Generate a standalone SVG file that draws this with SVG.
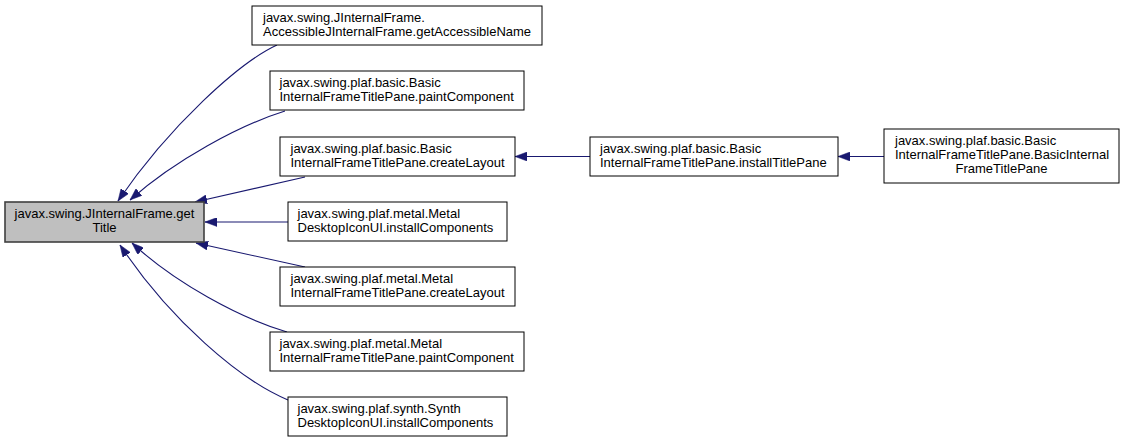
<svg xmlns="http://www.w3.org/2000/svg" width="1125" height="444" viewBox="0 0 1125 444">
<style>
  text { font-family: "Liberation Sans", Arial, sans-serif; font-size: 13px; fill: #000; }
  .node rect { fill: #fff; stroke: #000; stroke-width: 1; }
  .main rect { fill: #bfbfbf; stroke: #404040; stroke-width: 1.6; }
  .c { text-anchor: middle; }
  .edge { fill: none; stroke: #191970; stroke-width: 1.1; marker-end: url(#arr); }
</style>
<defs>
  <marker id="arr" markerUnits="userSpaceOnUse" viewBox="0 0 12 9" refX="12" refY="4.5" markerWidth="12" markerHeight="9" orient="auto">
    <path d="M0,0 L12,4.5 L0,9 z" fill="#191970" stroke="#191970" stroke-width="0.5"/>
  </marker>
</defs>
<rect width="1125" height="444" fill="#fff"/>
<g id="connectors">
  <path class="edge" d="M277,45 C240,62 170,125 118,201"/>
  <path class="edge" d="M285,111 C240,125 175,160 130,200"/>
  <path class="edge" d="M305,177 L195,202"/>
  <path class="edge" d="M288,222 L205,222"/>
  <path class="edge" d="M305,267 L196,243"/>
  <path class="edge" d="M287,332 C240,318 175,283 132,243"/>
  <path class="edge" d="M288,400 C240,380 170,320 120,245"/>
  <path class="edge" d="M590,156.5 L515,156.5"/>
  <path class="edge" d="M884,156.5 L838,156.5"/>
</g>
<g id="main" class="main">
  <rect x="5" y="202" width="199" height="40"/>
  <text class="c" x="104.5" y="218">javax.swing.JInternalFrame.get</text>
  <text class="c" x="104.5" y="232">Title</text>
</g>
<g id="n1" class="node">
  <rect x="252" y="6" width="290" height="39"/>
  <text x="263" y="22">javax.swing.JInternalFrame.</text>
  <text x="263" y="36">AccessibleJInternalFrame.getAccessibleName</text>
</g>
<g id="n2" class="node">
  <rect x="270" y="71" width="254" height="39"/>
  <text x="279.5" y="87">javax.swing.plaf.basic.Basic</text>
  <text x="279.5" y="101">InternalFrameTitlePane.paintComponent</text>
</g>
<g id="n3" class="node">
  <rect x="280" y="137" width="235" height="39"/>
  <text x="290.5" y="153">javax.swing.plaf.basic.Basic</text>
  <text x="290.5" y="167">InternalFrameTitlePane.createLayout</text>
</g>
<g id="n4" class="node">
  <rect x="288" y="202" width="219" height="39"/>
  <text x="297.5" y="218">javax.swing.plaf.metal.Metal</text>
  <text x="297.5" y="232">DesktopIconUI.installComponents</text>
</g>
<g id="n5" class="node">
  <rect x="280" y="267" width="235" height="39"/>
  <text x="290.5" y="283">javax.swing.plaf.metal.Metal</text>
  <text x="290.5" y="297">InternalFrameTitlePane.createLayout</text>
</g>
<g id="n6" class="node">
  <rect x="270" y="332" width="254" height="39"/>
  <text x="279.5" y="348">javax.swing.plaf.metal.Metal</text>
  <text x="279.5" y="362">InternalFrameTitlePane.paintComponent</text>
</g>
<g id="n7" class="node">
  <rect x="288" y="397" width="219" height="39"/>
  <text x="297.5" y="413">javax.swing.plaf.synth.Synth</text>
  <text x="297.5" y="427">DesktopIconUI.installComponents</text>
</g>
<g id="n8" class="node">
  <rect x="590" y="137" width="248" height="39"/>
  <text x="600" y="153">javax.swing.plaf.basic.Basic</text>
  <text x="600" y="167">InternalFrameTitlePane.installTitlePane</text>
</g>
<g id="n9" class="node">
  <rect x="884" y="129" width="235" height="54"/>
  <text x="895" y="145">javax.swing.plaf.basic.Basic</text>
  <text x="895" y="159">InternalFrameTitlePane.BasicInternal</text>
  <text class="c" x="1001.5" y="173">FrameTitlePane</text>
</g>
</svg>
